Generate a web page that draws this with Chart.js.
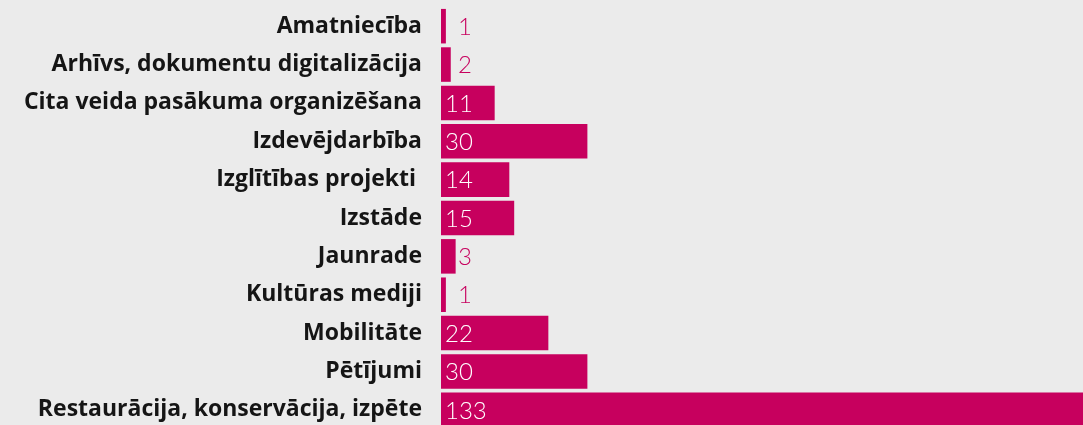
<!DOCTYPE html>
<html>
<head>
<meta charset="utf-8">
<script src="https://cdn.jsdelivr.net/npm/chart.js@4"></script>
<style>
  html, body { margin: 0; padding: 0; background: #ebebeb; overflow: hidden; }
  #wrap { position: relative; width: 1090px; height: 429px; }
</style>
</head>
<body>
<div id="wrap"><canvas id="c"></canvas></div>
<script>
const categories = [
  "Amatniecība",
  "Arhīvs, dokumentu digitalizācija",
  "Cita veida pasākuma organizēšana",
  "Izdevējdarbība",
  "Izglītības projekti ",
  "Izstāde",
  "Jaunrade",
  "Kultūras mediji",
  "Mobilitāte",
  "Pētījumi",
  "Restaurācija, konservācija, izpēte"
];
const projectCounts = [1, 2, 11, 30, 14, 15, 3, 1, 22, 30, 133];

const BAR_COLOR = '#c7005e';

const valueLabels = {
  id: 'valueLabels',
  afterDatasetsDraw(chart) {
    const ctx = chart.ctx;
    const meta = chart.getDatasetMeta(0);
    const xs = chart.scales.x;
    const zero = xs.getPixelForValue(0);
    ctx.save();
    ctx.font = '300 24px Lato, Roboto, sans-serif';
    ctx.textBaseline = 'middle';
    ctx.textAlign = 'left';
    meta.data.forEach((bar, i) => {
      const v = projectCounts[i];
      const txt = String(v);
      const w = ctx.measureText(txt).width;
      const barW = bar.x - zero;
      if (barW > w + 8) {
        ctx.fillStyle = '#ffffff';
        ctx.fillText(txt, zero + 4, bar.y + 1);
      } else {
        ctx.fillStyle = BAR_COLOR;
        ctx.fillText(txt, zero + 17, bar.y + 1);
      }
    });
    ctx.restore();
  }
};

new Chart(document.getElementById('c'), {
  type: 'bar',
  data: {
    labels: categories,
    datasets: [{
      data: projectCounts,
      backgroundColor: BAR_COLOR,
      borderWidth: 0,
      barPercentage: 0.9,
      categoryPercentage: 1.0
    }]
  },
  options: {
    indexAxis: 'y',
    responsive: true,
    maintainAspectRatio: false,
    animation: false,
    layout: { padding: { top: 7, left: 0, right: 0, bottom: 0 } },
    plugins: { legend: { display: false }, tooltip: { enabled: false } },
    scales: {
      x: { display: false, min: 0, max: 133 },
      y: {
        afterFit(scale) {
          scale.width = 441;
          scale.paddingTop = 0;
          scale.paddingBottom = 0;
        },
        grid: { display: false, drawTicks: false },
        border: { display: false },
        ticks: {
          padding: 19,
          color: '#151515',
          font: { family: '"Open Sans", sans-serif', weight: 'bold', size: 23 }
        }
      }
    }
  },
  plugins: [valueLabels]
});
</script>
</body>
</html>
